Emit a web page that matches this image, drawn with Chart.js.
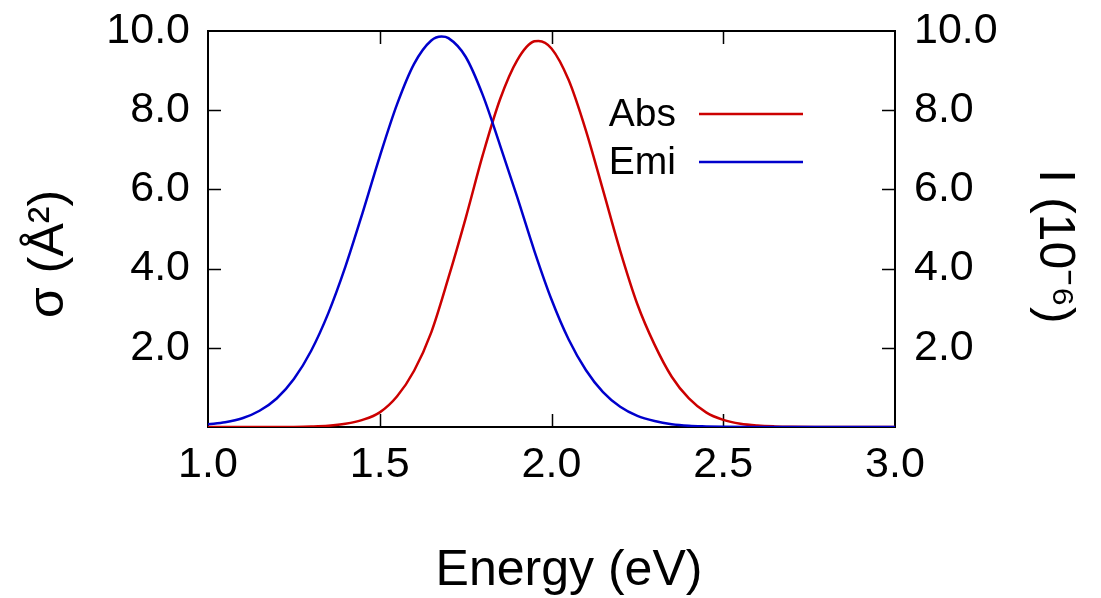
<!DOCTYPE html>
<html>
<head>
<meta charset="utf-8">
<script src="https://cdn.jsdelivr.net/npm/chart.js@4.4.1/dist/chart.umd.min.js"></script>
<style>
  html, body { margin: 0; padding: 0; background: #fff; }
  #wrap { position: relative; width: 1101px; height: 598px; }
</style>
</head>
<body>
<div id="wrap"><canvas id="spectra"></canvas></div>
<script>
// values
const emiEnergy = [1.00, 1.05, 1.10, 1.15, 1.20, 1.25, 1.30, 1.35, 1.40, 1.45, 1.50, 1.55, 1.60, 1.65, 1.68, 1.70,
  1.75, 1.80, 1.85, 1.90, 1.95, 2.00, 2.05, 2.10, 2.15, 2.20, 2.25, 2.30, 2.35, 2.40, 2.45, 2.50, 2.60, 2.70, 2.80, 2.90, 3.00];
const emiValues = [0.07, 0.12, 0.22, 0.41, 0.72, 1.21, 1.92, 2.87, 4.05, 5.41, 6.83, 8.14, 9.17, 9.76, 9.86, 9.82,
  9.35, 8.38, 7.12, 5.81, 4.45, 3.22, 2.21, 1.44, 0.88, 0.51, 0.28, 0.15, 0.07, 0.03, 0.015, 0.006, 0.002, 0, 0, 0, 0];

const absEnergy = [1.00, 1.10, 1.20, 1.25, 1.30, 1.35, 1.40, 1.45, 1.50, 1.55, 1.60, 1.65, 1.70, 1.75, 1.80, 1.85,
  1.90, 1.95, 1.962, 2.00, 2.05, 2.10, 2.15, 2.20, 2.25, 2.30, 2.35, 2.40, 2.45, 2.50, 2.55, 2.60, 2.65, 2.70, 2.80, 2.90, 3.00];
const absValues = [0, 0, 0.001, 0.003, 0.011, 0.03, 0.08, 0.18, 0.37, 0.77, 1.42, 2.39, 3.77, 5.27, 6.87, 8.27,
  9.26, 9.74, 9.75, 9.56, 8.76, 7.49, 5.98, 4.45, 3.10, 2.08, 1.27, 0.72, 0.37, 0.18, 0.08, 0.035, 0.015, 0.006, 0.002, 0, 0];

const seriesLabels = ["Abs", "Emi"];
const xTicks = [1.0, 1.5, 2.0, 2.5, 3.0];
const yTicks = [2.0, 4.0, 6.0, 8.0, 10.0];

const FONT = "'Liberation Sans', Arial, sans-serif";
Chart.defaults.font.family = FONT;
Chart.defaults.color = "#000";

const pts = (xs, ys) => xs.map((x, i) => ({ x: x, y: ys[i] }));

// gnuplot style frame with inward ticks
const framePlugin = {
  id: "frame",
  beforeDatasetsDraw(chart) {
    const { ctx, chartArea: a, scales } = chart;
    ctx.save();
    ctx.strokeStyle = "#000";
    ctx.lineWidth = 1.5;
    ctx.beginPath();
    xTicks.forEach(v => {
      if (v <= scales.x.min || v >= scales.x.max) return;
      const px = Math.round(scales.x.getPixelForValue(v)) + 0.5;
      ctx.moveTo(px, a.bottom); ctx.lineTo(px, a.bottom - 13);
      ctx.moveTo(px, a.top); ctx.lineTo(px, a.top + 13);
    });
    yTicks.forEach(v => {
      if (v <= scales.y.min || v >= scales.y.max) return;
      const py = Math.round(scales.y.getPixelForValue(v)) + 0.5;
      ctx.moveTo(a.left, py); ctx.lineTo(a.left + 13, py);
      ctx.moveTo(a.right, py); ctx.lineTo(a.right - 13, py);
    });
    ctx.stroke();
    ctx.lineWidth = 2;
    ctx.strokeRect(a.left, a.top, a.width, a.height);
    ctx.restore();
  },
  afterDraw(chart) {
    // key: text then line sample, inside the plot
    const { ctx } = chart;
    ctx.save();
    ctx.font = "39px " + FONT;
    ctx.textAlign = "right";
    ctx.textBaseline = "middle";
    seriesLabels.forEach((lab, i) => {
      const ds = chart.data.datasets.find(d => d.label === lab);
      const y = 114 + i * 48;
      ctx.fillStyle = "#000";
      ctx.fillText(lab, 676, y + 1);
      ctx.strokeStyle = ds.borderColor;
      ctx.lineWidth = 2.5;
      ctx.beginPath();
      ctx.moveTo(699, y); ctx.lineTo(803, y);
      ctx.stroke();
    });
    ctx.restore();
  }
};

const tickFont = { size: 43 };
const titleFont = { size: 50 };

const fitY = w => s => { s.width = w; s.paddingTop = 0; s.paddingBottom = 0; };

new Chart(document.getElementById("spectra"), {
  type: "line",
  data: {
    datasets: [
      {
        label: "Abs",
        data: pts(absEnergy, absValues),
        borderColor: "#CC0000",
        backgroundColor: "#CC0000",
        borderWidth: 2.5,
        pointRadius: 0,
        cubicInterpolationMode: "monotone",
        order: 1,
        yAxisID: "y",
      },
      {
        label: "Emi",
        data: pts(emiEnergy, emiValues),
        borderColor: "#0000CC",
        backgroundColor: "#0000CC",
        borderWidth: 2.5,
        pointRadius: 0,
        cubicInterpolationMode: "monotone",
        order: 0,
        yAxisID: "y",
      },
    ],
  },
  options: {
    responsive: true,
    maintainAspectRatio: false,
    animation: false,
    layout: { padding: { top: 31, left: 0, right: 0, bottom: 0 } },
    plugins: {
      legend: { display: false },
      tooltip: { enabled: false },
    },
    scales: {
      x: {
        type: "linear",
        min: 1.0,
        max: 3.0,
        afterFit: s => { s.height = 171; s.paddingLeft = 0; s.paddingRight = 0; },
        afterBuildTicks: s => { s.ticks = xTicks.map(v => ({ value: v })); },
        grid: { display: false, drawTicks: false },
        border: { display: false },
        ticks: {
          font: tickFont,
          padding: 12,
          maxRotation: 0,
          callback: v => Number(v).toFixed(1),
        },
        title: { display: true, text: "\u2002\u2009Energy (eV)", font: titleFont, padding: -3 },
      },
      y: {
        position: "left",
        min: 0,
        max: 10,
        afterFit: fitY(208),
        afterBuildTicks: s => { s.ticks = yTicks.map(v => ({ value: v })); },
        grid: { display: false, drawTicks: false },
        border: { display: false },
        ticks: { font: tickFont, padding: 18, callback: v => Number(v).toFixed(1) },
        title: { display: true, text: "σ (Å²)\u2003", font: titleFont, padding: 19 },
      },
      y2: {
        position: "right",
        min: 0,
        max: 10,
        afterFit: fitY(206),
        afterBuildTicks: s => { s.ticks = yTicks.map(v => ({ value: v })); },
        grid: { display: false, drawTicks: false },
        border: { display: false },
        ticks: { font: tickFont, padding: 19, callback: v => Number(v).toFixed(1) },
        title: { display: true, text: "\u2002\u2009I (10⁻⁶)", font: titleFont, padding: 17 },
      },
    },
  },
  plugins: [framePlugin],
});
</script>
</body>
</html>
